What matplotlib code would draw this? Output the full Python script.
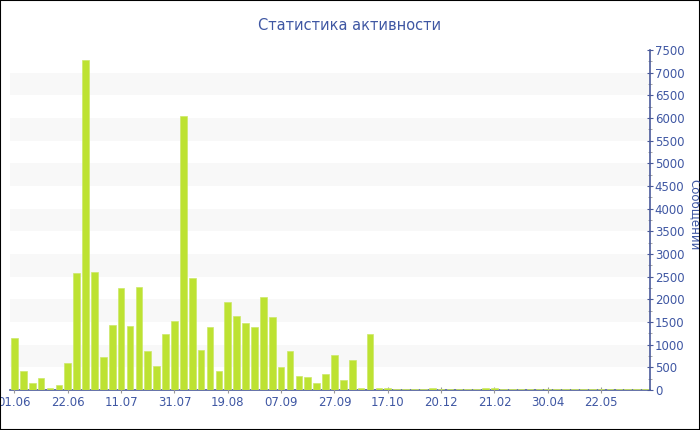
#!/usr/bin/env python3

import numpy as np
import matplotlib.pyplot as plt
from matplotlib.ticker import MultipleLocator

title = "Статистика активности"
ylabel = "Сообщений"

# one value per period
values = [1150, 420, 160, 260, 40, 110, 600, 2590, 7280, 2610,
          730, 1435, 2240, 1410, 2280, 850, 530, 1240, 1520, 6050,
          2470, 880, 1390, 430, 1950, 1630, 1470, 1400, 2050, 1600,
          500, 870, 310, 280, 160, 350, 770, 220, 670, 45,
          1230, 50, 45, 30, 30, 30, 30, 35, 30, 30,
          30, 30, 30, 35, 35, 30, 30, 30, 30, 30,
          30, 30, 30, 30, 30, 30, 30, 30, 30, 30,
          30, 30]
tick_pos = [0, 6, 12, 18, 24, 30, 36, 42, 48, 54, 60, 66]
tick_labels = ['01.06', '22.06', '11.07', '31.07', '19.08', '07.09',
               '27.09', '17.10', '20.12', '21.02', '30.04', '22.05']

text_color = '#3f57a3'
axis_color = '#4a5a9a'
bar_color = '#bde232'

fig = plt.figure(figsize=(7, 4.3), dpi=100)
fig.patches.append(plt.Rectangle((0, 0), 1, 1, transform=fig.transFigure,
                                 fill=False, edgecolor='black', linewidth=1.5))
ax = fig.add_axes([10/700, 40/430, 640/700, 340/430])

x = np.arange(len(values))

# alternating bands
for lo in range(500, 7500, 1000):
    ax.axhspan(lo, lo + 500, color='#f8f8f8', zorder=0, linewidth=0)

ax.bar(x, values, width=0.75, color=bar_color, edgecolor='#cde86a',
       linewidth=0.5, zorder=2)

ax.set_xlim(-0.5, len(values) - 0.5)
ax.set_ylim(0, 7500)

ax.yaxis.tick_right()
ax.yaxis.set_major_locator(MultipleLocator(500))
ax.yaxis.set_minor_locator(MultipleLocator(250))
ax.set_xticks(tick_pos)
ax.set_xticklabels(tick_labels)

for s in ['top', 'left']:
    ax.spines[s].set_visible(False)
for s in ['bottom', 'right']:
    ax.spines[s].set_color(axis_color)
    ax.spines[s].set_linewidth(1.2)
ax.spines['bottom'].set_zorder(1)

ax.tick_params(axis='y', colors=axis_color, labelcolor=text_color,
               labelsize=8.5, direction='inout', length=5, pad=1)
ax.tick_params(axis='y', which='minor', colors='#999999', direction='inout', length=3)
ax.tick_params(axis='x', colors='#999999', labelcolor=text_color,
               labelsize=8.5, direction='inout', length=5, pad=2)

fig.text(0.5, 1 - 25/430, title, ha='center', va='center',
         fontsize=10.5, color=text_color)
fig.text(695/700, 0.5, ylabel, ha='center', va='center', rotation=270,
         fontsize=8.5, color=text_color)

plt.savefig('out.png', dpi=100)
